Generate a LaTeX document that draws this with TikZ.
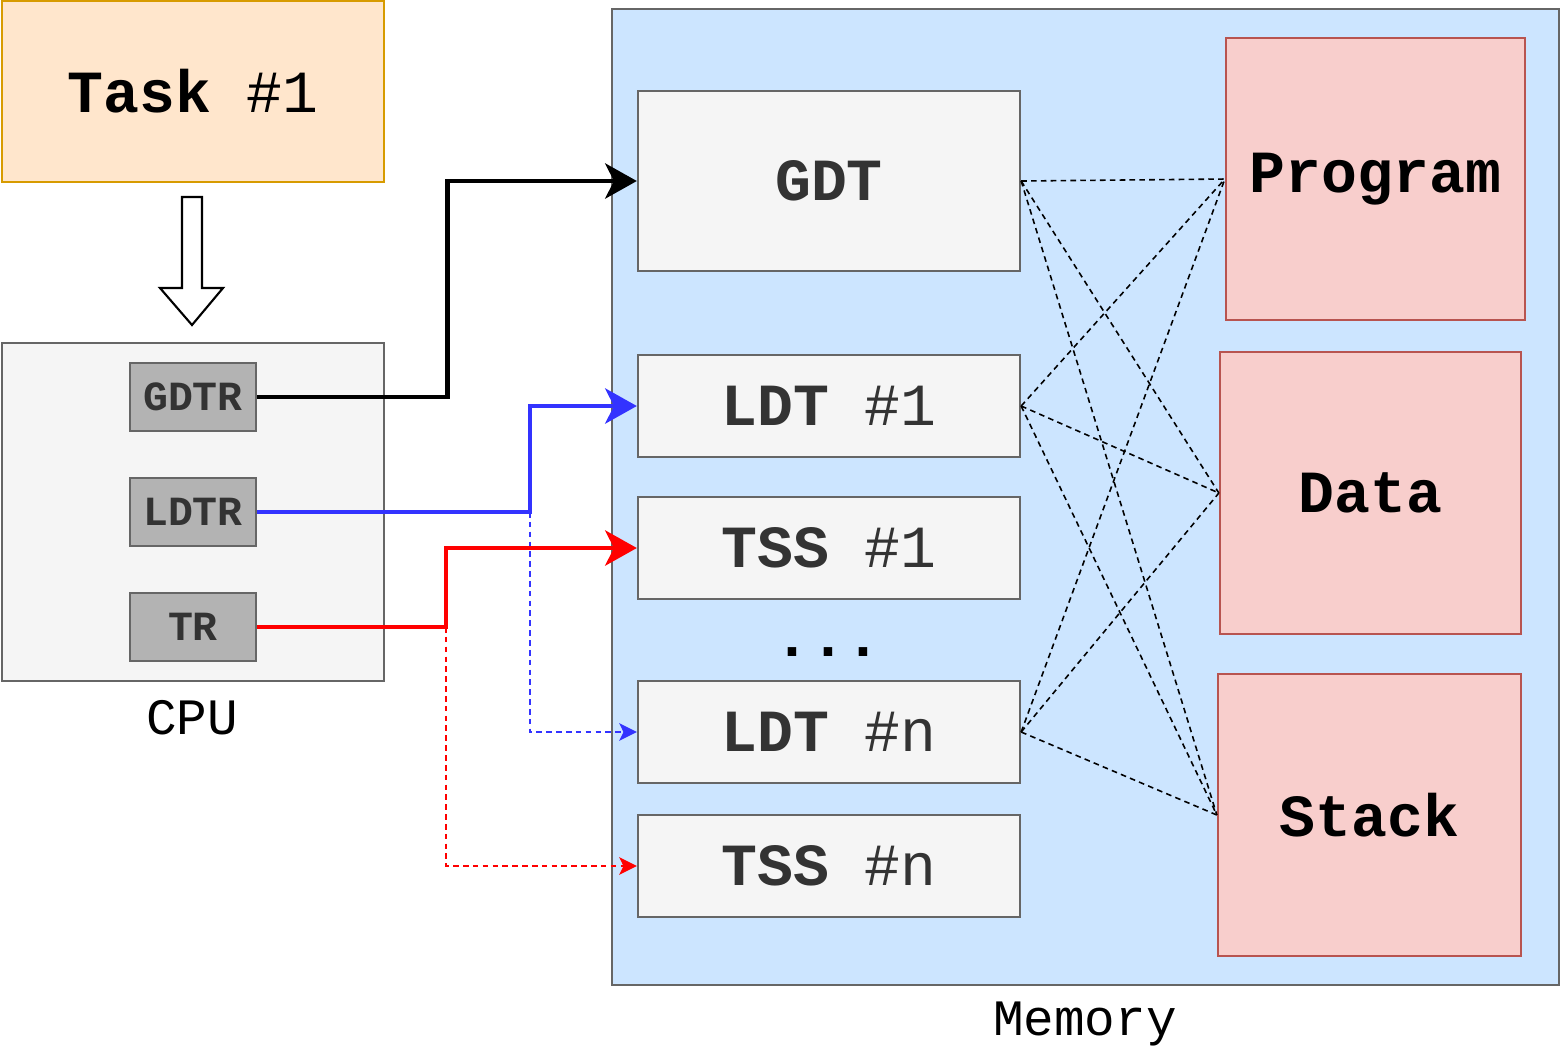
\documentclass[tikz,border=0pt]{standalone}
\usepackage{fontspec}
\setmainfont{Liberation Mono}
\usetikzlibrary{arrows.meta}
\definecolor{taskfill}{HTML}{FFE6CC}
\definecolor{taskline}{HTML}{D79B00}
\definecolor{boxfill}{HTML}{F5F5F5}
\definecolor{boxline}{HTML}{666666}
\definecolor{regfill}{HTML}{B3B3B3}
\definecolor{memfill}{HTML}{CCE5FF}
\definecolor{segfill}{HTML}{F8CECC}
\definecolor{segline}{HTML}{B85450}
\definecolor{txtgrey}{HTML}{333333}
\definecolor{ldtblue}{HTML}{3333FF}
\newcommand{\bigtxt}{\fontsize{17}{20}\selectfont}
\newcommand{\midtxt}{\fontsize{14.5}{17}\selectfont}
\newcommand{\regtxt}{\fontsize{11.8}{14}\selectfont}
\tikzset{
    tablebox/.style={draw=boxline,fill=boxfill,line width=0.6pt,minimum width=3.82cm,text=txtgrey,font=\bigtxt},
    segbox/.style={draw=segline,fill=segfill,line width=0.6pt,minimum height=2.82cm,font=\bigtxt},
    regbox/.style={draw=boxline,fill=regfill,line width=0.6pt,minimum width=1.26cm,minimum height=0.68cm,text=txtgrey,font=\regtxt\bfseries},
    bus/.style={line width=1.4pt,-{Stealth[length=9pt,width=10pt,inset=2.5pt]}},
    spare/.style={line width=0.45pt,dash pattern=on 1.6pt off 1.2pt,-{Stealth[length=5pt,width=5pt,inset=1.2pt]}},
    link/.style={line width=0.45pt,dash pattern=on 1.6pt off 1.2pt}
}
\begin{document}
\begin{tikzpicture}[x=0.01cm,y=-0.01cm]
    \useasboundingbox (0,0) rectangle (1560,1056);
    % task and cpu
    \node[draw=taskline,fill=taskfill,line width=0.6pt,minimum width=3.82cm,minimum height=1.81cm,font=\bigtxt] (task) at (193,91.5) {\textbf{Task} \#1};
    \draw[fill=white,line width=0.6pt] (182,197)--(202,197)--(202,288)--(223,288)--(192,325)--(160,288)--(182,288)--cycle;
    \node[draw=boxline,fill=boxfill,line width=0.6pt,minimum width=3.82cm,minimum height=3.38cm] (cpu) at (193,512) {};
    \node[font=\midtxt] (cpulbl) at (192,718) {CPU};
    \node[regbox] (gdtr) at (193,397) {GDTR};
    \node[regbox] (ldtr) at (193,512) {LDTR};
    \node[regbox] (tr) at (193,627) {TR};
    % memory
    \node[draw=boxline,fill=memfill,line width=0.6pt,minimum width=9.47cm,minimum height=9.76cm] (mem) at (1085.5,497) {};
    \node[font=\midtxt] (memlbl) at (1085,1024) {Memory};
    \node[tablebox,minimum height=1.80cm,font=\bigtxt\bfseries] (gdt) at (829,181) {GDT};
    \node[tablebox,minimum height=1.02cm] (ldtone) at (829,406) {\textbf{LDT} \#1};
    \node[tablebox,minimum height=1.02cm] (tssone) at (829,548) {\textbf{TSS} \#1};
    \node[font=\bigtxt\bfseries] (dots) at (828,652) {...};
    \node[tablebox,minimum height=1.02cm] (ldtn) at (829,732) {\textbf{LDT} \#n};
    \node[tablebox,minimum height=1.02cm] (tssn) at (829,866) {\textbf{TSS} \#n};
    \node[segbox,minimum width=2.99cm] (prog) at (1375.5,179) {\textbf{Program}};
    \node[segbox,minimum width=3.01cm] (data) at (1370.5,493) {\textbf{Data}};
    \node[segbox,minimum width=3.03cm] (stack) at (1369.5,815) {\textbf{Stack}};
    \foreach \a in {gdt,ldtone,ldtn}
        \foreach \b in {prog,data,stack}
            \draw[link] (\a.east) -- (\b.west);
    % registers to tables
    \draw[bus] (gdtr.east) -- ++(190,0) |- (gdt.west);
    \draw[bus,ldtblue] (ldtr.east) -- (530,512) coordinate (lbend) |- (ldtone.west);
    \draw[spare,ldtblue] (lbend) |- (ldtn.west);
    \draw[bus,red] (tr.east) -- (446,627) coordinate (tbend) |- (tssone.west);
    \draw[spare,red] (tbend) |- (tssn.west);
\end{tikzpicture}
\end{document}
